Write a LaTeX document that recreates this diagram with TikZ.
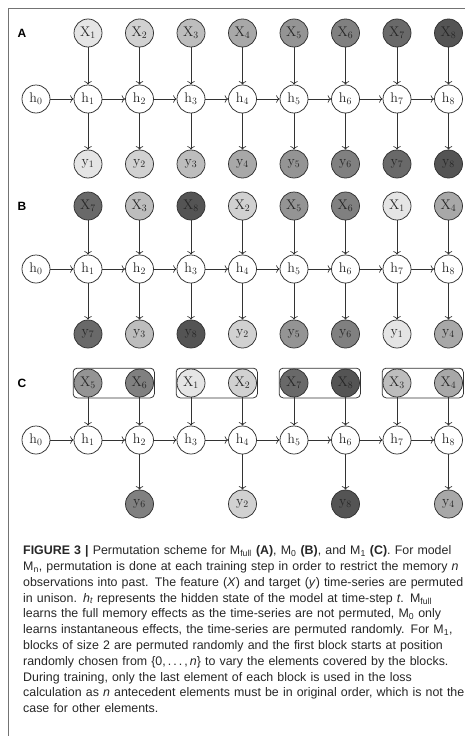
\documentclass[tikz,border=0pt]{standalone}
\usepackage{fontspec}
\newfontfamily\capfont{Liberation Sans}
\usetikzlibrary{arrows.meta,fit}

% grey ramp for the eight time steps
\definecolor{g1}{gray}{0.90}
\definecolor{g2}{gray}{0.82}
\definecolor{g3}{gray}{0.74}
\definecolor{g4}{gray}{0.66}
\definecolor{g5}{gray}{0.58}
\definecolor{g6}{gray}{0.50}
\definecolor{g7}{gray}{0.41}
\definecolor{g8}{gray}{0.33}

\tikzset{
  var/.style={circle, draw=black!80, line width=0.75pt, minimum size=28pt,
    inner sep=0pt, font=\fontsize{14}{16}\selectfont, text=black!85},
  arr/.style={draw=black!80, line width=0.75pt, -{To[length=3.5pt,width=7.5pt]}},
  panel/.style={font=\capfont\bfseries\fontsize{12}{14}\selectfont},
  block/.style={draw=black!80, line width=0.75pt, rounded corners=4pt, inner sep=0.5pt},
  frameline/.style={draw=black!55, line width=0.8pt},
  caption/.style={font=\capfont\fontsize{12.4}{15.8}\selectfont, text width=446pt,
    align=left, inner sep=0pt, text=black!85}
}
\newcommand{\vsub}[2]{#1\textsubscript{#2}}

\begin{document}
\begin{tikzpicture}[x=1pt,y=-1pt]
\useasboundingbox (0,0) rectangle (465,736);
\draw[frameline] (8,736) -- (8,8) -- (465,8);

% ---------- (A) unpermuted sequence ----------
\node[panel] (labA) at (22,33) {A};
\node[var] (ah0) at (36,99) {\vsub{h}{0}};
\foreach \i in {1,...,8}{
  \pgfmathsetmacro\xx{88+51.5*(\i-1)}
  \node[var, fill=g\i] (aX\i) at (\xx,33) {\vsub{X}{\i}};
  \node[var] (ah\i) at (\xx,99) {\vsub{h}{\i}};
  \node[var, fill=g\i] (ay\i) at (\xx,164) {\vsub{y}{\i}};
  \draw[arr] (aX\i) -- (ah\i);
  \draw[arr] (ah\i) -- (ay\i);
}
\foreach \i [remember=\i as \prev (initially 0)] in {1,...,8}
  \draw[arr] (ah\prev) -- (ah\i);

% ---------- (B) fully permuted sequence ----------
\node[panel] (labB) at (22,206) {B};
\node[var] (bh0) at (36,269) {\vsub{h}{0}};
\foreach \p [count=\i] in {7,3,8,2,5,6,1,4}{
  \pgfmathsetmacro\xx{88+51.5*(\i-1)}
  \node[var, fill=g\p] (bX\i) at (\xx,206) {\vsub{X}{\p}};
  \node[var] (bh\i) at (\xx,269) {\vsub{h}{\i}};
  \node[var, fill=g\p] (by\i) at (\xx,334) {\vsub{y}{\p}};
  \draw[arr] (bX\i) -- (bh\i);
  \draw[arr] (bh\i) -- (by\i);
}
\foreach \i [remember=\i as \prev (initially 0)] in {1,...,8}
  \draw[arr] (bh\prev) -- (bh\i);

% ---------- (C) block-permuted sequence ----------
\node[panel] (labC) at (22,383) {C};
\node[var] (ch0) at (36,440) {\vsub{h}{0}};
\foreach \p [count=\i] in {5,6,1,2,7,8,3,4}{
  \pgfmathsetmacro\xx{88+51.5*(\i-1)}
  \node[var, fill=g\p] (cX\i) at (\xx,383) {\vsub{X}{\p}};
  \node[var] (ch\i) at (\xx,440) {\vsub{h}{\i}};
  \draw[arr] (cX\i) -- (ch\i);
}
\foreach \i [remember=\i as \prev (initially 0)] in {1,...,8}
  \draw[arr] (ch\prev) -- (ch\i);
\foreach \i/\p in {2/6,4/2,6/8,8/4}{
  \pgfmathsetmacro\xx{88+51.5*(\i-1)}
  \node[var, fill=g\p] (cy\i) at (\xx,504) {\vsub{y}{\p}};
  \draw[arr] (ch\i) -- (cy\i);
}
\foreach \k [evaluate=\k as \l using int(\k+1)] in {1,3,5,7}
  \node[block, fit=(cX\k)(cX\l)] (blk\k) {};

% ---------- caption ----------
\node[caption, anchor=north west] (cap) at (23,545.5) {%
\textbf{FIGURE 3 |} Permutation scheme for M\textsubscript{full} \textbf{(A)}, M\textsubscript{0} \textbf{(B)}, and M\textsubscript{1} \textbf{(C)}. For model\\
M\textsubscript{n}, permutation is done at each training step in order to restrict the memory \textit{n}\\
observations into past. The feature (\textit{X}) and target (\textit{y}) time-series are permuted\\
in unison. \textit{h\textsubscript{t}} represents the hidden state of the model at time-step \textit{t}. M\textsubscript{full}\\
learns the full memory effects as the time-series are not permuted, M\textsubscript{0} only\\
learns instantaneous effects, the time-series are permuted randomly. For M\textsubscript{1},\\
blocks of size 2 are permuted randomly and the first block starts at position\\
randomly chosen from \{0,\,.\,.\,.\,,\,\textit{n}\} to vary the elements covered by the blocks.\\
During training, only the last element of each block is used in the loss\\
calculation as \textit{n} antecedent elements must be in original order, which is not the\\
case for other elements.};
\end{tikzpicture}
\end{document}
